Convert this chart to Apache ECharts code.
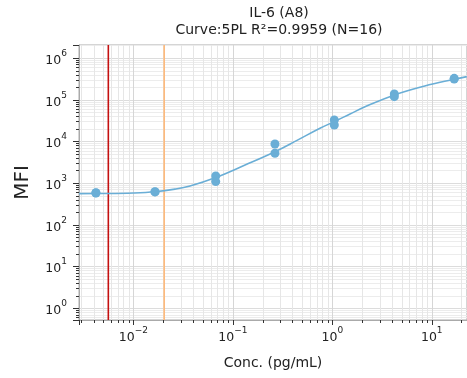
<!DOCTYPE html>
<html>
<head>
<meta charset="utf-8">
<script src="https://cdn.jsdelivr.net/npm/echarts@6/dist/echarts.min.js"></script>
<style>html,body{margin:0;padding:0;background:#fff}#chart{width:467px;height:378px}</style>
</head>
<body>
<div id="chart"></div>
<script>
// standards (two replicates per concentration)
const stdConc = [0.0042, 0.0042, 0.0165, 0.0165, 0.0673, 0.0673, 0.265, 0.265, 1.047, 1.047, 4.2, 4.2, 16.8, 16.8];
const stdMfi = [585, 592, 620, 625, 1496, 1096, 8770, 5250, 33000, 25000, 139000, 120000, 330000, 316000];

// fitted 5PL curve
const curveConc = [0.00284, 0.00557, 0.01, 0.0165, 0.0262, 0.0371, 0.0673, 0.1327, 0.265, 0.4416, 0.7516, 1.047, 1.507, 2.133, 4.21, 8.51, 16.8, 22.5];
const curveMfi = [565, 568, 585, 628, 724, 861, 1377, 2748, 5730, 10700, 20900, 30200, 46000, 68500, 131800, 216300, 313300, 363000];

// LOD / LLOQ markers
const lodConc = 0.0056;
const lloqConc = 0.0204;

const xMin = 0.00284, xMax = 22.6;
const yMin = 0.524, yMax = 2.08e6;

const font = 'DejaVu Sans';

function powLabel(v) {
  const e = Math.round(Math.log10(v));
  return '{b|10}{s|' + (e < 0 ? '\u2212' + (-e) : e) + '}';
}

const labelRich = {
  b: { fontFamily: font, fontSize: 12.5, color: '#222', verticalAlign: 'bottom', lineHeight: 18 },
  s: { fontFamily: font, fontSize: 9, color: '#222', verticalAlign: 'top', lineHeight: 12 }
};

function vline(x, color) {
  return {
    type: 'line',
    data: [[x, yMin], [x, yMax]],
    showSymbol: false,
    silent: true,
    lineStyle: { color: color, width: 1.6 },
    z: 2
  };
}

const chart = echarts.init(document.getElementById('chart'));

chart.setOption({
  animation: false,
  title: {
    text: 'IL-6 (A8)\nCurve:5PL R\u00b2=0.9959 (N=16)',
    left: 274,
    top: 0,
    textAlign: 'center',
    textStyle: { fontFamily: font, fontSize: 14, fontWeight: 'normal', color: '#222', lineHeight: 17 }
  },
  grid: {
    left: 79, top: 45, right: -1, bottom: 58,
    show: true, borderColor: '#aaa', borderWidth: 1
  },
  xAxis: {
    type: 'log',
    logBase: 10,
    min: xMin,
    max: xMax,
    name: 'Conc. (pg/mL)',
    nameLocation: 'middle',
    nameGap: 36,
    nameTextStyle: { fontFamily: font, fontSize: 14, color: '#222' },
    axisLine: { lineStyle: { color: '#aaa' } },
    axisTick: { length: 5, lineStyle: { color: '#333' } },
    minorTick: { show: true, splitNumber: 9, length: 3, lineStyle: { color: '#333' } },
    axisLabel: { formatter: powLabel, rich: labelRich, margin: 6, showMinLabel: false, showMaxLabel: false },
    splitLine: { show: true, lineStyle: { color: '#d6d6d6' } },
    minorSplitLine: { show: true, lineStyle: { color: '#e6e6e6' } }
  },
  yAxis: {
    type: 'log',
    logBase: 10,
    min: yMin,
    max: yMax,
    name: 'MFI',
    nameLocation: 'middle',
    nameGap: 46,
    nameTextStyle: { fontFamily: font, fontSize: 20, color: '#222' },
    axisLine: { show: true, lineStyle: { color: '#aaa' } },
    axisTick: { show: true, length: 6, lineStyle: { color: '#333' } },
    minorTick: { show: true, splitNumber: 9, length: 3, lineStyle: { color: '#333' } },
    axisLabel: { formatter: powLabel, rich: labelRich, margin: 12, showMinLabel: false, showMaxLabel: false },
    splitLine: { show: true, lineStyle: { color: '#dcdcdc' } },
    minorSplitLine: { show: true, lineStyle: { color: '#ececec' } }
  },
  series: [
    vline(lodConc, '#c41010'),
    vline(lloqConc, '#fdb97a'),
    {
      type: 'line',
      data: curveConc.map((c, i) => [c, curveMfi[i]]),
      smooth: 0.4,
      showSymbol: false,
      lineStyle: { color: '#6aaed6', width: 1.6 },
      z: 3
    },
    {
      type: 'scatter',
      data: stdConc.map((c, i) => [c, stdMfi[i]]),
      symbolSize: 9,
      itemStyle: { color: '#6aaed6', opacity: 1 },
      z: 4
    }
  ]
});
</script>
</body>
</html>
